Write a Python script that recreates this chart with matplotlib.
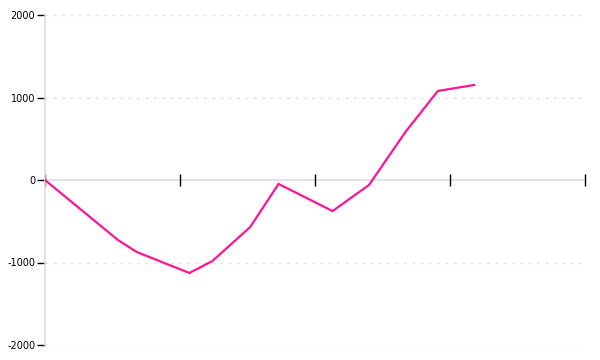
import numpy as np
import matplotlib
matplotlib.use("Agg")
import matplotlib.pyplot as plt

# data (x in tick units, 10 per tick interval)
x_vals = [0, 5.4, 6.8, 10.7, 12.4, 15.2, 17.3, 21.3, 24.0, 26.7, 29.1, 31.8]
y_vals = [0, -727, -873, -1127, -982, -570, -48, -376, -61, 582, 1079, 1152]

y_ticks = [-2000, -1000, 0, 1000, 2000]
x_ticks = [0, 10, 20, 30, 40]

LINE_COLOR = "#ff1493"
AXIS_GRAY = "#dddddd"

fig = plt.figure(figsize=(6, 3.6), dpi=100)
ax = fig.add_axes([45 / 600, 15 / 360, 540 / 600, 330 / 360])

ax.set_xlim(0, 40)
ax.set_ylim(-2000, 2000)

# dotted horizontal grid
for yv in y_ticks:
    if yv != 0:
        ax.axhline(yv, color="#e4e4e4", linewidth=1, linestyle=(0, (2, 4)), zorder=0)
ax.axhline(0, color=AXIS_GRAY, linewidth=1.2, zorder=1)

ax.plot(x_vals, y_vals, color=LINE_COLOR, linewidth=1.6, zorder=3,
        solid_joinstyle="miter")

for s in ["top", "right", "bottom"]:
    ax.spines[s].set_visible(False)
ax.spines["left"].set_color(AXIS_GRAY)
ax.spines["left"].set_linewidth(1.2)

ax.set_yticks(y_ticks)
ax.set_yticklabels([str(v) for v in y_ticks])
ax.tick_params(axis="y", length=6, width=1, color="black", labelsize=7, pad=1)

ax.set_xticks(x_ticks)
ax.set_xticklabels([])
ax.tick_params(axis="x", direction="inout", length=9, width=1, color="black")
# put x ticks on the zero line
ax.spines["bottom"].set_position(("data", 0))

fig.savefig("out.png", dpi=100)
